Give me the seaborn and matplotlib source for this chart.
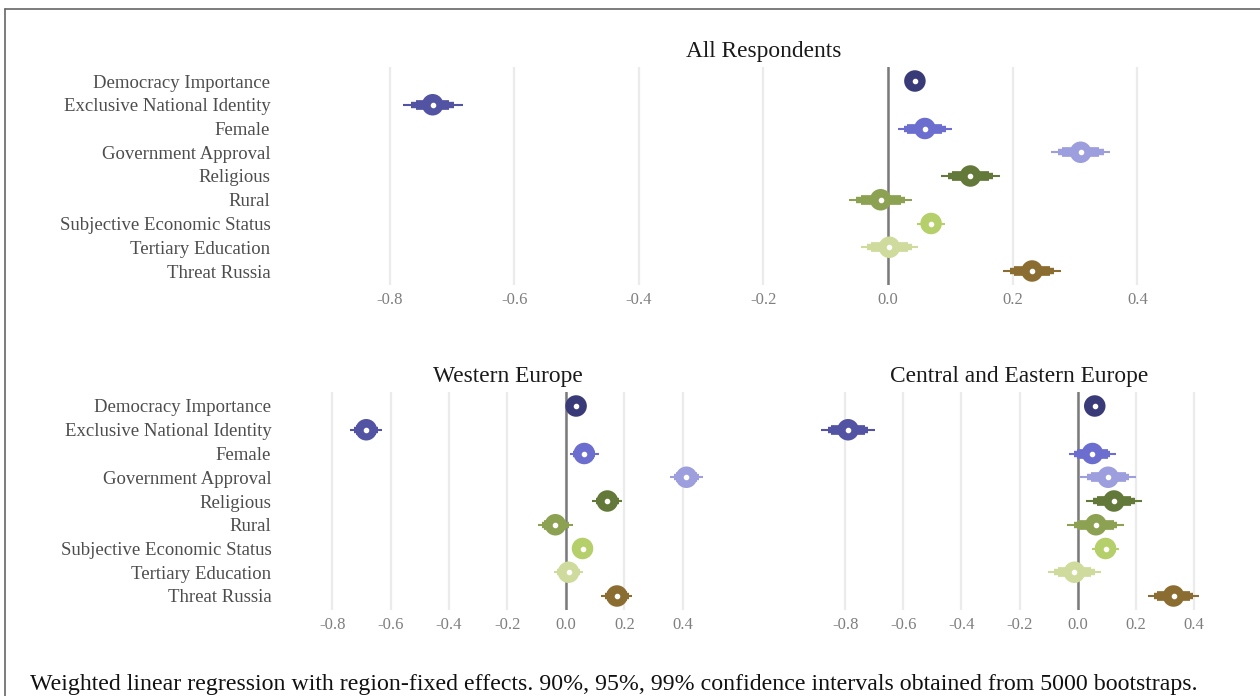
import matplotlib
matplotlib.use("Agg")
import matplotlib.pyplot as plt
from matplotlib.lines import Line2D
import pandas as pd
import seaborn as sns


terms = [
    "Democracy Importance",
    "Exclusive National Identity",
    "Female",
    "Government Approval",
    "Religious",
    "Rural",
    "Subjective Economic Status",
    "Tertiary Education",
    "Threat Russia",
]

# point estimates and half-widths of the 90/95/99% bootstrap intervals
all_est = [0.043, -0.731, 0.059, 0.309, 0.132, -0.012, 0.069, 0.002, 0.231]
all_hw90 = [0.008, 0.027, 0.028, 0.030, 0.030, 0.032, 0.013, 0.030, 0.029]
all_hw95 = [0.010, 0.034, 0.034, 0.037, 0.036, 0.039, 0.016, 0.036, 0.036]
all_hw99 = [0.014, 0.048, 0.043, 0.047, 0.047, 0.050, 0.023, 0.046, 0.046]

west_est = [0.035, -0.684, 0.063, 0.413, 0.142, -0.036, 0.057, 0.009, 0.175]
west_hw90 = [0.008, 0.035, 0.032, 0.036, 0.033, 0.038, 0.018, 0.033, 0.034]
west_hw95 = [0.010, 0.042, 0.038, 0.043, 0.039, 0.046, 0.022, 0.039, 0.040]
west_hw99 = [0.014, 0.055, 0.050, 0.057, 0.051, 0.060, 0.030, 0.051, 0.053]

cee_est = [0.059, -0.790, 0.051, 0.105, 0.125, 0.063, 0.096, -0.011, 0.330]
cee_hw90 = [0.010, 0.058, 0.052, 0.060, 0.060, 0.062, 0.030, 0.058, 0.056]
cee_hw95 = [0.012, 0.070, 0.062, 0.072, 0.071, 0.074, 0.035, 0.070, 0.066]
cee_hw99 = [0.016, 0.092, 0.082, 0.096, 0.095, 0.098, 0.047, 0.092, 0.088]

x_ticks = [-0.8, -0.6, -0.4, -0.2, 0.0, 0.2, 0.4]
x_tick_labels = ["-0.8", "-0.6", "-0.4", "-0.2", "0.0", "0.2", "0.4"]

caption = ("Weighted linear regression with region-fixed effects. 90%, 95%, 99% "
           "confidence intervals obtained from 5000 bootstraps.")

SERIF = ["Liberation Serif", "DejaVu Serif"]


def draw_panel(ax, est, hw90, hw95, hw99, title, palette, show_labels):
    df = pd.DataFrame({
        "term": terms,
        "pos": range(len(terms)),
        "estimate": est,
        "hw90": hw90,
        "hw95": hw95,
        "hw99": hw99,
    })

    for x in x_ticks:
        ax.axvline(x, color="#ebebeb", lw=1.6, zorder=0)
    ax.axvline(0, color="#7a7a7a", lw=1.8, zorder=1)

    for col, lw in [("hw99", 1.5), ("hw95", 4.6), ("hw90", 7.0)]:
        ax.hlines(df["pos"], df["estimate"] - df[col], df["estimate"] + df[col],
                  colors=palette, lw=lw, zorder=2)

    sns.scatterplot(data=df, x="estimate", y="pos", hue="term", palette=palette,
                    s=240, linewidth=0, legend=False, ax=ax, zorder=3)
    ax.scatter(df["estimate"], df["pos"], s=9, color="white", zorder=4)

    ax.set_xlim(-0.976, 0.576)
    ax.set_ylim(len(terms) - 0.4, -0.6)
    ax.set_xticks(x_ticks)
    ax.set_xticklabels(x_tick_labels, color="#7f7f7f", fontsize=12, family=SERIF)
    ax.set_yticks(df["pos"])
    if show_labels:
        ax.set_yticklabels(terms, color="#4d4d4d", fontsize=13.5, family=SERIF)
    else:
        ax.set_yticklabels([])
    ax.tick_params(axis="both", length=0)
    ax.tick_params(axis="x", pad=5)
    ax.tick_params(axis="y", pad=7)
    ax.set_xlabel("")
    ax.set_ylabel("")
    ax.grid(False)
    for s in ax.spines.values():
        s.set_visible(False)
    ax.set_title(title, fontsize=16.8, color="#1a1a1a", family=SERIF, pad=7)


def main() -> None:
    sns.set_theme(style="white")
    plt.rcParams["font.family"] = SERIF
    plt.rcParams["axes.unicode_minus"] = False

    palette = sns.color_palette("tab20b", len(terms))

    W, H = 1260, 696
    fig = plt.figure(figsize=(W / 100, H / 100), dpi=100)

    def px_axes(left, top, right, bottom):
        return fig.add_axes([left / W, 1 - bottom / H, (right - left) / W, (bottom - top) / H])

    ax_all = px_axes(280, 66.75, 1247, 285.25)
    ax_west = px_axes(281, 391.75, 734, 610.25)
    ax_cee = px_axes(794, 391.75, 1245, 610.25)

    draw_panel(ax_all, all_est, all_hw90, all_hw95, all_hw99, "All Respondents", palette, True)
    draw_panel(ax_west, west_est, west_hw90, west_hw95, west_hw99, "Western Europe", palette, True)
    draw_panel(ax_cee, cee_est, cee_hw90, cee_hw95, cee_hw99, "Central and Eastern Europe", palette, False)

    fig.text(30 / W, 6 / H, caption, fontsize=17.2, color="#111111", family=SERIF,
             ha="left", va="baseline")

    # outer frame (top and left edges)
    fig.add_artist(Line2D([5 / W, 1], [1 - 9 / H, 1 - 9 / H], color="#666666", lw=1.2))
    fig.add_artist(Line2D([5 / W, 5 / W], [0, 1 - 9 / H], color="#666666", lw=1.2))

    fig.savefig("out.png", dpi=100)
    plt.close(fig)


if __name__ == "__main__":
    main()
